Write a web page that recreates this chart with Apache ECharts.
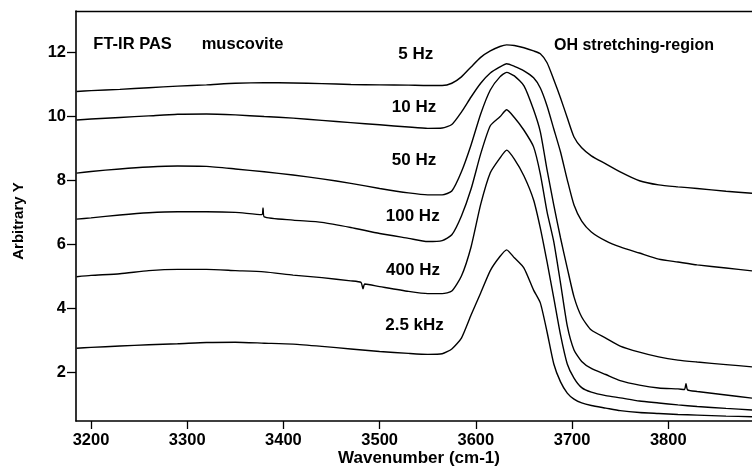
<!DOCTYPE html>
<html><head><meta charset="utf-8">
<script src="https://cdn.jsdelivr.net/npm/echarts@6/dist/echarts.min.js"></script>
<style>html,body{margin:0;padding:0;background:#fff}#c{width:752px;height:468px}</style>
</head><body><div id="c"></div>
<script>
// Wavenumber grid (cm-1)
const wavenumbers = [3185,3200,3230,3260,3290,3320,3350,3380,3410,3440,3470,3500,3530,3550,3565,3575,3585,3595,3605,3615,3625,3632,3640,3650,3660,3667,3674,3681,3688,3695,3702,3710,3720,3735,3750,3770,3790,3810,3830,3860,3887];
const xTicks = [3200,3300,3400,3500,3600,3700,3800];
const yTicks = [2,4,6,8,10,12];
const seriesNames = ['5 Hz','10 Hz','50 Hz','100 Hz','400 Hz','2.5 kHz'];

const hz5 = [10.78,10.81,10.85,10.90,10.95,10.99,11.04,11.06,11.05,11.03,11.00,10.99,10.98,10.97,10.97,11.04,11.24,11.55,11.85,12.05,12.19,12.24,12.22,12.15,12.05,11.96,11.68,11.15,10.58,9.96,9.36,9.02,8.77,8.52,8.27,7.99,7.86,7.80,7.75,7.66,7.60];
const hz10 = [9.89,9.92,9.97,10.02,10.07,10.08,10.05,10.00,9.95,9.88,9.81,9.74,9.67,9.63,9.64,9.75,10.14,10.61,11.04,11.36,11.55,11.65,11.57,11.43,11.21,10.89,10.33,9.61,8.89,8.02,7.23,6.73,6.39,6.11,5.92,5.73,5.54,5.45,5.36,5.26,5.17];
const hz50 = [8.23,8.28,8.36,8.42,8.45,8.44,8.36,8.27,8.17,8.05,7.91,7.75,7.61,7.55,7.55,7.67,8.27,9.11,10.08,10.83,11.24,11.38,11.27,10.96,10.21,9.52,8.33,7.23,6.20,5.26,4.36,3.73,3.32,3.07,2.82,2.63,2.48,2.38,2.32,2.24,2.17];
const hz100 = [6.79,6.83,6.92,6.99,7.02,7.02,7.00,6.86,6.76,6.69,6.53,6.34,6.19,6.09,6.12,6.30,6.89,7.73,8.83,9.71,9.99,10.21,9.97,9.57,9.05,8.20,7.02,6.08,4.79,3.45,2.70,2.34,2.12,1.93,1.74,1.60,1.51,1.48,1.40,1.29,1.19];
const hz400 = [4.99,5.03,5.08,5.18,5.22,5.22,5.18,5.14,5.04,4.96,4.86,4.68,4.53,4.46,4.46,4.54,5.01,5.92,7.25,8.24,8.70,8.95,8.67,8.14,7.39,6.51,5.45,4.32,3.17,2.26,1.82,1.52,1.38,1.27,1.20,1.10,1.04,0.98,0.93,0.87,0.82];
const khz25 = [2.75,2.78,2.82,2.86,2.89,2.93,2.94,2.91,2.88,2.81,2.73,2.65,2.59,2.56,2.58,2.73,3.07,3.79,4.48,5.18,5.62,5.83,5.58,5.26,4.57,4.17,3.26,2.26,1.70,1.35,1.16,1.04,0.96,0.88,0.80,0.74,0.71,0.68,0.66,0.63,0.61];

// Spikes / glitches visible in the noisier traces: [wavenumber, value]
const spikes100 = [[3377.5,6.93],[3378.8,7.14],[3816.8,1.46],[3818.4,1.64],[3820,1.45]];
const spikes400 = [[3480.6,4.81],[3482.7,4.61],[3484.5,4.76]];

const allValues = [hz5,hz10,hz50,hz100,hz400,khz25];
const allExtras = [null,null,null,spikes100,spikes400,null];

function pairs(vals, extra){
  const d = wavenumbers.map((w,i)=>[w, vals[i]]);
  if (extra) d.push(...extra);
  d.sort((a,b)=>a[0]-b[0]);
  return d;
}

const FONT = '"Liberation Sans", Arial, Helvetica, sans-serif';
const XMIN = 3184.4, XMAX = 3887, YMIN = 0.476, YMAX = 13.3;

const labelPos = [
  {t:'5 Hz', x:415.8, y:54.2},
  {t:'10 Hz', x:414, y:107.5},
  {t:'50 Hz', x:414, y:160.8},
  {t:'100 Hz', x:412.7, y:216.7},
  {t:'400 Hz', x:413, y:270},
  {t:'2.5 kHz', x:414.5, y:325}
];

const txt = (text, x, y, align, size) => ({
  type:'text', x:x, y:y, silent:true,
  style:{text:text, fill:'#000', font:'bold ' + size + 'px ' + FONT, textAlign:align, textVerticalAlign:'middle'}
});

const chart = echarts.init(document.getElementById('c'), null, {renderer:'canvas'});
chart.setOption({
  animation:false,
  backgroundColor:'#fff',
  grid:{left:76, right:0, top:11, bottom:47, containLabel:false, outerBoundsMode:'none'},
  xAxis:[{
    type:'value', min:XMIN, max:XMAX, position:'bottom',
    axisLine:{show:true, onZero:false, lineStyle:{color:'#000', width:1.6}},
    axisTick:{show:true, inside:false, length:8, customValues:xTicks, lineStyle:{color:'#000', width:1.3}},
    axisLabel:{customValues:xTicks, formatter:v=>String(v), color:'#000', fontFamily:FONT, fontWeight:'bold', fontSize:16.5, margin:11},
    splitLine:{show:false},
    name:'Wavenumber (cm-1)', nameLocation:'middle', nameGap:29, nameMoveOverlap:false,
    nameTextStyle:{color:'#000', fontFamily:FONT, fontWeight:'bold', fontSize:17, padding:[0,0,0,10]}
  },{
    type:'value', min:XMIN, max:XMAX, position:'top',
    axisLine:{show:true, onZero:false, lineStyle:{color:'#000', width:1.4}},
    axisTick:{show:false}, axisLabel:{show:false}, splitLine:{show:false}
  }],
  yAxis:{
    type:'value', min:YMIN, max:YMAX,
    axisLine:{show:true, onZero:false, lineStyle:{color:'#000', width:1.6}},
    axisTick:{show:true, inside:false, length:9, customValues:yTicks, lineStyle:{color:'#000', width:1.3}},
    axisLabel:{customValues:yTicks, formatter:v=>String(v), color:'#000', fontFamily:FONT, fontWeight:'bold', fontSize:16.5, margin:10},
    splitLine:{show:false},
    name:'Arbitrary Y', nameLocation:'middle', nameGap:50, nameMoveOverlap:false,
    nameTextStyle:{color:'#000', fontFamily:FONT, fontWeight:'bold', fontSize:15, padding:[0,10,0,0]}
  },
  series: allValues.map((v,i)=>({
    name: seriesNames[i], type:'line', xAxisIndex:0, data: pairs(v, allExtras[i]),
    showSymbol:false, symbol:'none', smooth:0.2, clip:true, silent:true,
    lineStyle:{color:'#000', width:1.4}
  })),
  graphic: [
    txt('FT-IR PAS', 93.3, 44.2, 'left', 16.5),
    txt('muscovite', 201.7, 44.2, 'left', 16.5),
    txt('OH stretching-region', 554, 45.5, 'left', 16),
    ...labelPos.map(p => txt(p.t, p.x, p.y, 'center', 17))
  ]
});
</script>
</body></html>
